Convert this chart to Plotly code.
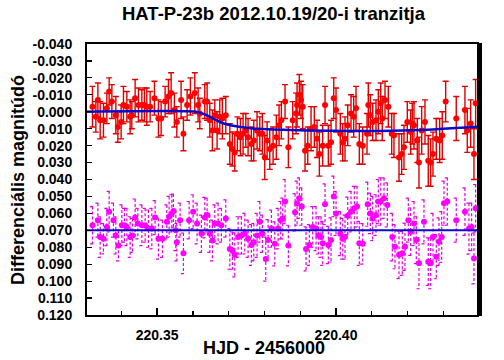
import plotly.graph_objects as go

# ---------------- data ----------------
red_x = [
    220.33193, 220.33288, 220.33344, 220.33408, 220.33500, 220.33595, 220.33659, 220.33735, 220.33846, 220.33902,
    220.33994, 220.34059, 220.34154, 220.34246, 220.34293, 220.34385, 220.34478, 220.34573, 220.34645, 220.34712,
    220.34804, 220.34925, 220.35036, 220.35112, 220.35223, 220.35316, 220.35391, 220.35483, 220.35550, 220.35670,
    220.35735, 220.35838, 220.35930, 220.36053, 220.36145, 220.36193, 220.36332, 220.36397, 220.36472, 220.36545,
    220.36612, 220.36676, 220.36751, 220.36824, 220.36919, 220.37031, 220.37103, 220.37170, 220.37243, 220.37327,
    220.37402, 220.37478, 220.37542, 220.37634, 220.37701, 220.37793, 220.37869, 220.37941, 220.38008, 220.38073,
    220.38148, 220.38240, 220.38332, 220.38408, 220.38472, 220.38575, 220.38668, 220.38790, 220.38883, 220.38911,
    220.38975, 220.39022, 220.39070, 220.39134, 220.39210, 220.39302, 220.39394, 220.39469, 220.39534, 220.39628,
    220.39693, 220.39785, 220.39860, 220.39936, 220.40000, 220.40120, 220.40187, 220.40251, 220.40327, 220.40419,
    220.40494, 220.40559, 220.40651, 220.40746, 220.40866, 220.40902, 220.40958, 220.41025, 220.41117, 220.41182,
    220.41249, 220.41293, 220.41369, 220.41461, 220.41556, 220.41620, 220.41760, 220.41835, 220.41899, 220.41992,
    220.42087, 220.42131, 220.42179, 220.42271, 220.42318, 220.42394, 220.42486, 220.42578, 220.42645, 220.42709,
    220.42802, 220.42897, 220.42969, 220.43064, 220.43360, 220.43603, 220.43668, 220.43763, 220.43855, 220.43902,
]
red_y = [
    -0.003, 0.003, -0.007, 0.005, 0.005, -0.002, -0.012, -0.006, 0.002, 0.009,
    0.006, -0.004, -0.003, 0.003, 0.002, -0.008, -0.004, -0.004, -0.004, -0.003,
    -0.003, -0.008, 0.004, 0.004, -0.006, -0.009, -0.011, -0.001, 0.006, -0.007,
    0.013, -0.004, -0.009, -0.011, -0.004, 0.001, -0.006, -0.006, 0.005, 0.011,
    0.002, 0.011, 0.003, 0.004, 0.002, 0.019, 0.022, 0.024, 0.013, 0.015,
    0.013, 0.011, 0.015, 0.019, 0.017, 0.011, 0.013, 0.013, 0.027, 0.017,
    0.022, 0.020, 0.015, 0.008, 0.005, -0.006, 0.021, 0.005, 0.001, -0.004,
    -0.010, -0.007, -0.003, 0.023, 0.020, 0.010, 0.009, 0.016, 0.025, 0.020,
    -0.004, 0.020, 0.018, -0.008, -0.001, 0.013, 0.018, 0.016, 0.008, 0.001,
    0.003, -0.002, 0.019, 0.020, 0.013, -0.004, 0.002, 0.006, 0.005, 0.000,
    -0.005, 0.004, -0.007, -0.003, 0.013, 0.014, 0.027, 0.025, 0.021, 0.006,
    0.012, 0.007, 0.008, 0.017, 0.030, 0.011, 0.006, 0.029, 0.030, 0.025,
    0.016, 0.017, 0.014, -0.006, 0.004, -0.001, 0.011, 0.007, 0.025, -0.005,
]
red_err = [
    0.012, 0.009, 0.010, 0.011, 0.010, 0.009, 0.008, 0.010, 0.011, 0.009,
    0.010, 0.011, 0.009, 0.010, 0.008, 0.011, 0.010, 0.009, 0.010, 0.011,
    0.009, 0.010, 0.011, 0.010, 0.009, 0.010, 0.012, 0.010, 0.009, 0.011,
    0.010, 0.009, 0.011, 0.012, 0.010, 0.009, 0.010, 0.011, 0.010, 0.012,
    0.009, 0.011, 0.010, 0.012, 0.011, 0.012, 0.010, 0.011, 0.010, 0.011,
    0.012, 0.010, 0.011, 0.010, 0.012, 0.011, 0.010, 0.012, 0.013, 0.011,
    0.012, 0.011, 0.013, 0.012, 0.011, 0.010, 0.012, 0.011, 0.012, 0.013,
    0.012, 0.011, 0.013, 0.012, 0.011, 0.013, 0.012, 0.011, 0.013, 0.012,
    0.011, 0.012, 0.013, 0.012, 0.013, 0.012, 0.011, 0.013, 0.012, 0.011,
    0.012, 0.013, 0.012, 0.011, 0.012, 0.013, 0.012, 0.011, 0.012, 0.013,
    0.012, 0.013, 0.011, 0.012, 0.012, 0.013, 0.014, 0.012, 0.013, 0.012,
    0.013, 0.012, 0.014, 0.013, 0.015, 0.014, 0.013, 0.015, 0.014, 0.013,
    0.012, 0.013, 0.014, 0.012, 0.013, 0.014, 0.013, 0.014, 0.015, 0.014,
]

mag_x = [
    220.33193, 220.33344, 220.33408, 220.33500, 220.33595, 220.33659, 220.33779, 220.33846, 220.33919, 220.34014,
    220.34087, 220.34154, 220.34246, 220.34310, 220.34385, 220.34461, 220.34573, 220.34665, 220.34757, 220.34852,
    220.34944, 220.35036, 220.35148, 220.35271, 220.35335, 220.35411, 220.35455, 220.35522, 220.35550, 220.35642,
    220.35735, 220.35894, 220.36006, 220.36117, 220.36237, 220.36332, 220.36397, 220.36472, 220.36545, 220.36612,
    220.36704, 220.36796, 220.36919, 220.37031, 220.37103, 220.37170, 220.37263, 220.37355, 220.37450, 220.37542,
    220.37634, 220.37701, 220.37793, 220.37869, 220.37941, 220.38036, 220.38101, 220.38193, 220.38288, 220.38380,
    220.38455, 220.38511, 220.38575, 220.38668, 220.38855, 220.38911, 220.38975, 220.39042, 220.39162, 220.39254,
    220.39349, 220.39441, 220.39506, 220.39581, 220.39628, 220.39693, 220.39785, 220.39860, 220.39936, 220.40000,
    220.40120, 220.40187, 220.40251, 220.40327, 220.40419, 220.40511, 220.40587, 220.40651, 220.40746, 220.40885,
    220.40958, 220.41025, 220.41117, 220.41182, 220.41249, 220.41341, 220.41433, 220.41573, 220.41648, 220.41760,
    220.41852, 220.41927, 220.42020, 220.42087, 220.42179, 220.42243, 220.42318, 220.42458, 220.42578, 220.42645,
    220.42709, 220.42802, 220.42877, 220.42953, 220.43017, 220.43109, 220.43360, 220.43603, 220.43715, 220.43790,
    220.43855, 220.43902,
]
mag_y = [
    0.067, 0.064, 0.074, 0.075, 0.068, 0.059, 0.064, 0.073, 0.079, 0.067,
    0.067, 0.068, 0.074, 0.073, 0.0625, 0.066, 0.067, 0.067, 0.069, 0.069,
    0.0625, 0.075, 0.075, 0.065, 0.062, 0.060, 0.0586, 0.070, 0.077, 0.064,
    0.0836, 0.064, 0.059, 0.066, 0.072, 0.0625, 0.061, 0.072, 0.076, 0.066,
    0.066, 0.067, 0.063, 0.081, 0.082, 0.0845, 0.074, 0.073, 0.072, 0.075,
    0.0787, 0.077, 0.073, 0.065, 0.072, 0.087, 0.0757, 0.069, 0.078, 0.069,
    0.064, 0.063, 0.053, 0.079, 0.0594, 0.054, 0.051, 0.056, 0.081, 0.0787,
    0.068, 0.069, 0.073, 0.074, 0.0777, 0.0546, 0.0787, 0.0757, 0.050, 0.060,
    0.072, 0.075, 0.074, 0.0614, 0.059, 0.057, 0.056, 0.0777, 0.078, 0.0546,
    0.060, 0.063, 0.061, 0.053, 0.053, 0.051, 0.055, 0.074, 0.0797, 0.0845,
    0.0836, 0.0797, 0.064, 0.0708, 0.066, 0.0757, 0.0895, 0.065, 0.0885, 0.0895,
    0.074, 0.0856, 0.0767, 0.074, 0.054, 0.053, 0.064, 0.059, 0.069, 0.068,
    0.0866, 0.057,
]
mag_err = [
    0.011, 0.010, 0.012, 0.009, 0.011, 0.012, 0.010, 0.011, 0.009, 0.012,
    0.010, 0.011, 0.012, 0.010, 0.011, 0.009, 0.012, 0.010, 0.011, 0.012,
    0.010, 0.012, 0.011, 0.010, 0.012, 0.011, 0.010, 0.012, 0.011, 0.010,
    0.012, 0.011, 0.010, 0.012, 0.011, 0.012, 0.010, 0.011, 0.012, 0.011,
    0.012, 0.010, 0.011, 0.012, 0.011, 0.013, 0.012, 0.011, 0.012, 0.011,
    0.012, 0.011, 0.013, 0.012, 0.011, 0.013, 0.012, 0.011, 0.013, 0.012,
    0.011, 0.012, 0.013, 0.012, 0.011, 0.013, 0.012, 0.011, 0.013, 0.012,
    0.012, 0.013, 0.011, 0.012, 0.013, 0.012, 0.011, 0.013, 0.012, 0.013,
    0.013, 0.012, 0.013, 0.011, 0.012, 0.013, 0.012, 0.013, 0.012, 0.013,
    0.012, 0.013, 0.012, 0.013, 0.014, 0.012, 0.013, 0.014, 0.013, 0.014,
    0.013, 0.014, 0.013, 0.014, 0.013, 0.014, 0.015, 0.013, 0.014, 0.015,
    0.014, 0.013, 0.014, 0.015, 0.013, 0.014, 0.013, 0.014, 0.015, 0.014,
    0.015, 0.014,
]

model_x = [220.3304, 220.3609, 220.3628, 220.3648, 220.3665, 220.3684, 220.3712,
           220.3760, 220.3852, 220.3983, 220.4123, 220.4235, 220.4394]
model_y = [0.000, 0.000, 0.0012, 0.0030, 0.0050, 0.0068, 0.0083,
           0.0097, 0.0107, 0.0112, 0.0113, 0.0108, 0.0088]

comp_x = [220.3304, 220.4394]
comp_y = [0.070, 0.070]

x_range = [220.3304, 220.4394]
y_range = [0.120, -0.040]
y_ticks = [-0.04, -0.03, -0.02, -0.01, 0.0, 0.01, 0.02, 0.03, 0.04, 0.05, 0.06,
           0.07, 0.08, 0.09, 0.10, 0.11, 0.12]
y_tick_text = ["-0.040", "-0.030", "-0.020", "-0.010", "0.000", "0.010", "0.020",
               "0.030", "0.040", "0.050", "0.060", "0.070", "0.080", "0.090",
               "0.100", "0.110", "0.120"]
x_major = [220.35, 220.40]
x_major_text = ["220.35", "220.40"]

title_text = "HAT-P-23b 2012.10.19/20-i tranzitja"
x_title = "HJD - 2456000"
y_title = "Differenciális magnitúdó"

# ---------------- figure ----------------
FONT = "Liberation Sans, Arial, sans-serif"
RED = "#ff0000"
RED_BAR = "#dd0000"
MAG = "#ff00ff"
MAG_BAR = "#e000e0"
BLUE = "#0a0acc"

W, H = 504, 360
ML, MR, MT, MB = 87, 27, 44, 45
pw, ph = W - ML - MR, H - MT - MB

def px(xp):
    return (xp - ML) / pw

def py(yp):
    return 1 - (yp - MT) / ph

cap = 0.0007  # half cap width in x units

# dashed error bars for the comparison series
ebx, eby = [], []
for x, y, e in zip(mag_x, mag_y, mag_err):
    ebx += [x, x, None, x - cap, x + cap, None, x - cap, x + cap, None]
    eby += [y - e, y + e, None, y - e, y - e, None, y + e, y + e, None]

fig = go.Figure()

fig.add_trace(go.Scatter(
    x=red_x, y=red_y, mode="markers",
    marker=dict(color=RED, size=6, line=dict(width=0)),
    error_y=dict(type="data", array=red_err, visible=True,
                 color=RED_BAR, thickness=1.4, width=3),
    hoverinfo="skip", showlegend=False,
))

fig.add_trace(go.Scatter(
    x=ebx, y=eby, mode="lines",
    line=dict(color=MAG_BAR, width=1.2, dash="3px,2px"),
    hoverinfo="skip", showlegend=False, connectgaps=False,
))
fig.add_trace(go.Scatter(
    x=mag_x, y=mag_y, mode="markers",
    marker=dict(color=MAG, size=6, line=dict(width=0)),
    hoverinfo="skip", showlegend=False,
))

fig.add_trace(go.Scatter(
    x=model_x, y=model_y, mode="lines",
    line=dict(color=BLUE, width=2.5, shape="spline", smoothing=0.6),
    hoverinfo="skip", showlegend=False,
))
fig.add_trace(go.Scatter(
    x=comp_x, y=comp_y, mode="lines", line=dict(color=BLUE, width=2),
    hoverinfo="skip", showlegend=False,
))

fig.update_layout(
    width=W, height=H,
    margin=dict(l=ML, r=MR, t=MT, b=MB, autoexpand=False),
    paper_bgcolor="white", plot_bgcolor="white",
    font=dict(family=FONT, color="black", size=13),
    showlegend=False,
    annotations=[
        dict(text=title_text, x=px(274), y=py(14), xref="paper", yref="paper",
             xanchor="center", yanchor="middle", showarrow=False,
             font=dict(family=FONT, size=18.5, weight="bold", color="black")),
        dict(text=x_title, x=px(264), y=py(348), xref="paper", yref="paper",
             xanchor="center", yanchor="middle", showarrow=False,
             font=dict(family=FONT, size=18, weight="bold", color="black")),
        dict(text=y_title, x=px(18), y=py(180), xref="paper", yref="paper",
             xanchor="center", yanchor="middle", showarrow=False, textangle=-90,
             font=dict(family=FONT, size=18, weight="bold", color="black")),
    ],
    shapes=[
        dict(type="rect", xref="paper", yref="paper", x0=1.0, x1=1.0 + 5 / pw,
             y0=-0.004, y1=1.004, fillcolor="black", line=dict(width=0)),
    ],
)

fig.update_xaxes(
    range=x_range, showgrid=False, zeroline=False,
    showline=True, linecolor="black", linewidth=2, mirror=True,
    tickmode="array", tickvals=x_major, ticktext=x_major_text,
    ticks="inside", ticklen=7, tickwidth=1.5, tickcolor="black",
    tickfont=dict(family=FONT, size=14, weight="bold"),
    minor=dict(dtick=0.01, tick0=220.30, ticks="inside", ticklen=4, tickwidth=1.2, tickcolor="black"),
    ticklabelstandoff=6,
)
fig.update_yaxes(
    range=y_range, showgrid=False, zeroline=False,
    showline=True, linecolor="black", linewidth=2, mirror=True,
    tickmode="array", tickvals=y_ticks, ticktext=y_tick_text,
    ticks="inside", ticklen=5, tickwidth=1.2, tickcolor="black",
    tickfont=dict(family=FONT, size=14, weight="bold"),
    ticklabelstandoff=10,
)

fig.write_html(
    "out.html",
    config={"displayModeBar": False, "staticPlot": True},
    post_script="document.body.style.margin='0px';document.body.style.overflow='hidden';",
)
